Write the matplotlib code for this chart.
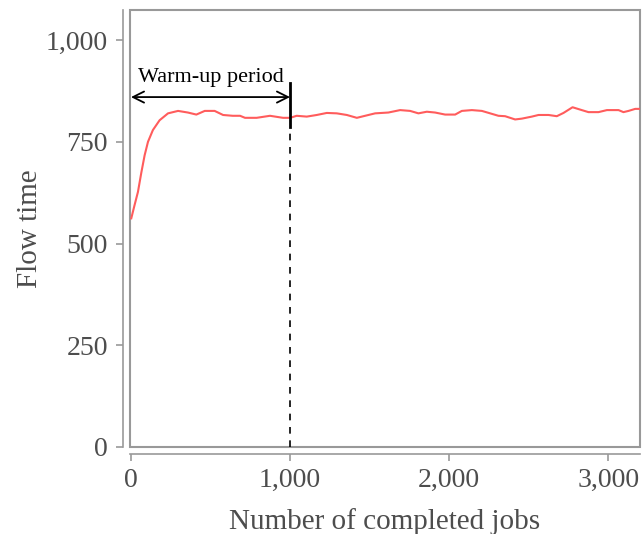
import matplotlib.pyplot as plt
from matplotlib.patches import Rectangle
from matplotlib.ticker import FuncFormatter

# valores (flow time vs trabajos completados)
jobs = [2, 23, 44, 65, 86, 107, 138, 180, 233, 296, 358, 411, 464, 526, 579,
        640, 686, 717, 790, 874, 956, 1000, 1042, 1105, 1168, 1231, 1294, 1357,
        1420, 1472, 1535, 1618, 1692, 1755, 1807, 1860, 1912, 1975, 2038, 2080,
        2143, 2206, 2258, 2310, 2352, 2415, 2457, 2520, 2562, 2625, 2677, 2719,
        2776, 2834, 2876, 2939, 2992, 3065, 3096, 3128, 3170, 3212]
flow = [562, 595, 627, 674, 717, 750, 779, 803, 820, 826, 822, 817, 826, 826, 816,
        814, 814, 809, 809, 814, 809, 809, 814, 812, 816, 821, 820, 816,
        809, 814, 820, 822, 828, 826, 820, 824, 822, 817, 817, 826,
        828, 826, 820, 814, 813, 805, 807, 812, 816, 816, 813, 821,
        835, 828, 823, 823, 828, 828, 823, 826, 831, 831]

warmup = 1000
xticks = [0, 1000, 2000, 3000]
yticks = [0, 250, 500, 750, 1000]

plt.rcParams['font.family'] = ['Liberation Serif', 'DejaVu Serif']
gris = '#4d4d4d'

fig = plt.figure(figsize=(6.44, 5.34), dpi=100)
ax = fig.add_axes([130/644, 1 - 447/534, 510/644, 437/534])

ax.plot(jobs, flow, color='#ff5c5c', lw=1.5)

# periodo de calentamiento
ax.plot([warmup, warmup], [0, 786], color='black', lw=1.2, ls=(0, (4, 4)))
ax.plot([warmup, warmup], [786, 894], color='black', lw=2)
ax.annotate('', xy=(0, 860), xytext=(warmup, 860),
            arrowprops=dict(arrowstyle='<->', color='black', lw=1.3,
                            mutation_scale=20, shrinkA=0, shrinkB=0))
ax.text(500, 908, 'Warm-up period', ha='center', va='center', fontsize=16)

ax.set_xlim(-6, 3200)
ax.set_ylim(0, 1074)
ax.set_xticks(xticks)
ax.set_yticks(yticks)
fmt = FuncFormatter(lambda v, p: f'{int(v):,}')
ax.xaxis.set_major_formatter(fmt)
ax.yaxis.set_major_formatter(fmt)

for s in ['top', 'right']:
    ax.spines[s].set_visible(False)
for s in ['left', 'bottom']:
    ax.spines[s].set_position(('outward', 5))
    ax.spines[s].set_color('#999999')
    ax.spines[s].set_linewidth(1.2)
ax.add_patch(Rectangle((0, 0), 1, 1, transform=ax.transAxes, fill=False,
                       edgecolor='#999999', lw=1.5, clip_on=False))

ax.tick_params(colors='#999999', labelcolor=gris, labelsize=20, length=5, width=1.2)
ax.tick_params(axis='y', pad=6)
ax.tick_params(axis='x', pad=5)

ax.set_xlabel('Number of completed jobs', fontsize=21, color=gris, labelpad=11)
ax.set_ylabel('Flow time', fontsize=21, color=gris, labelpad=2)

fig.savefig('out.png', dpi=100)
